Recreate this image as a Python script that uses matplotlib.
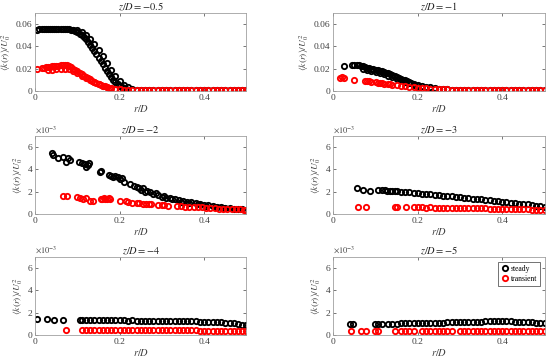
import matplotlib
matplotlib.use("Agg")
import matplotlib.pyplot as plt
from matplotlib.ticker import FuncFormatter

plt.rcParams['font.family'] = ['Liberation Serif', 'DejaVu Serif']
plt.rcParams['mathtext.fontset'] = 'stix'

titles = ['$z/D = -0.5$', '$z/D = -1$', '$z/D = -2$', '$z/D = -3$', '$z/D = -4$', '$z/D = -5$']

# ---- z/D = -0.5 (absolute values) ----
r_s1 = [0.005, 0.01, 0.015, 0.02, 0.025, 0.03, 0.035, 0.04, 0.045, 0.05, 0.055, 0.06, 0.065, 0.07,
        0.075, 0.08, 0.085, 0.09, 0.095, 0.10, 0.105, 0.11, 0.115, 0.12, 0.125, 0.13, 0.135, 0.14,
        0.145, 0.15, 0.155, 0.16, 0.165, 0.17, 0.175, 0.18, 0.185, 0.19, 0.195, 0.20, 0.205, 0.21,
        0.215, 0.22,
        0.09, 0.10, 0.11, 0.12, 0.13, 0.14, 0.15, 0.16, 0.17, 0.18, 0.19, 0.20, 0.21, 0.22, 0.23,
        0.24, 0.25, 0.26, 0.27, 0.28, 0.29, 0.30, 0.31, 0.32, 0.33, 0.34, 0.35, 0.36, 0.37, 0.38,
        0.39, 0.40, 0.41, 0.42, 0.43, 0.44, 0.45, 0.46, 0.47, 0.48, 0.49, 0.50]
k_s1 = [0.0550, 0.0552, 0.0553, 0.0554, 0.0555, 0.0555, 0.0556, 0.0556, 0.0556, 0.0556, 0.0556,
        0.0556, 0.0555, 0.0555, 0.0553, 0.0552, 0.0550, 0.0545, 0.0538, 0.0528, 0.0515, 0.0500,
        0.0482, 0.0462, 0.0440, 0.0415, 0.0388, 0.0360, 0.0330, 0.0300, 0.0270, 0.0240, 0.0210,
        0.0180, 0.0152, 0.0125, 0.0100, 0.0078, 0.0060, 0.0045, 0.0033, 0.0024, 0.0017, 0.0012,
        0.0550, 0.0547, 0.0532, 0.0506, 0.0470, 0.0425, 0.0372, 0.0312, 0.0250, 0.0186, 0.0130,
        0.0086, 0.0055, 0.0033, 0.0020,
        0.0010, 0.0009, 0.0008, 0.0008, 0.0007, 0.0007, 0.0007, 0.0006, 0.0006, 0.0006,
        0.0006, 0.0006, 0.0005, 0.0005, 0.0005, 0.0005, 0.0005, 0.0005, 0.0005, 0.0005, 0.0005,
        0.0005, 0.0005, 0.0005, 0.0005, 0.0005, 0.0005]
r_t1 = [0.005, 0.015, 0.02, 0.025, 0.03, 0.035, 0.04, 0.045, 0.05, 0.055, 0.06, 0.065, 0.07, 0.075,
        0.08, 0.085, 0.09, 0.095, 0.10, 0.105, 0.11, 0.115, 0.12, 0.125, 0.13, 0.135, 0.14, 0.145,
        0.15, 0.155, 0.16, 0.165, 0.17, 0.175, 0.18, 0.19, 0.20, 0.21, 0.22,
        0.03, 0.04, 0.05, 0.06, 0.07, 0.08, 0.09, 0.10, 0.11, 0.12, 0.13, 0.14, 0.15, 0.16, 0.17,
        0.18, 0.19, 0.20,
        0.23, 0.24, 0.25, 0.26, 0.27, 0.28, 0.29, 0.30, 0.31, 0.32, 0.33, 0.34, 0.35, 0.36, 0.37,
        0.38, 0.39, 0.40, 0.41, 0.42, 0.43, 0.44, 0.45, 0.46, 0.47, 0.48, 0.49, 0.50]
k_t1 = [0.0200, 0.0205, 0.0210, 0.0212, 0.0215, 0.0218, 0.0220, 0.0222, 0.0225, 0.0228, 0.0232,
        0.0235, 0.0235, 0.0230, 0.0222, 0.0212, 0.0200, 0.0188, 0.0175, 0.0162, 0.0150, 0.0138,
        0.0126, 0.0114, 0.0103, 0.0092, 0.0082, 0.0072, 0.0063, 0.0055, 0.0047, 0.0040, 0.0034,
        0.0029, 0.0024, 0.0018, 0.0013, 0.0010, 0.0008,
        0.0185, 0.0190, 0.0195, 0.0198, 0.0200, 0.0195, 0.0180, 0.0160, 0.0138, 0.0115, 0.0095,
        0.0077, 0.0060, 0.0045, 0.0034, 0.0025, 0.0018, 0.0013,
        0.0008, 0.0007, 0.0007, 0.0007, 0.0007, 0.0007, 0.0007, 0.0006, 0.0006, 0.0006, 0.0006,
        0.0006, 0.0006, 0.0006, 0.0006, 0.0006, 0.0006, 0.0006, 0.0006, 0.0006, 0.0006, 0.0006,
        0.0006, 0.0006, 0.0006, 0.0006, 0.0006, 0.0006]

# ---- z/D = -1 (absolute values) ----
r_s2 = [0.025, 0.045, 0.05, 0.055, 0.06, 0.065, 0.07, 0.075, 0.08, 0.085, 0.09, 0.095, 0.10, 0.105,
        0.11, 0.115, 0.12, 0.125, 0.13, 0.135, 0.14, 0.145, 0.15, 0.155, 0.16, 0.165, 0.17, 0.175,
        0.18, 0.185, 0.19, 0.20, 0.21, 0.22, 0.23, 0.24, 0.25, 0.26, 0.27, 0.28, 0.29, 0.30,
        0.07, 0.08, 0.09, 0.10, 0.11, 0.12, 0.13, 0.14, 0.15, 0.16, 0.17, 0.18, 0.19, 0.20,
        0.31, 0.32, 0.33, 0.34, 0.35, 0.36, 0.37, 0.38, 0.39, 0.40, 0.41, 0.42, 0.43, 0.44, 0.45,
        0.46, 0.47, 0.48, 0.49, 0.50]
k_s2 = [0.0225, 0.0230, 0.0232, 0.0233, 0.0230, 0.0225, 0.0222, 0.0215, 0.0210, 0.0205, 0.0200,
        0.0195, 0.0190, 0.0185, 0.0180, 0.0175, 0.0170, 0.0165, 0.0160, 0.0150, 0.0142, 0.0135,
        0.0127, 0.0118, 0.0110, 0.0102, 0.0095, 0.0088, 0.0080, 0.0073, 0.0066, 0.0055, 0.0046,
        0.0038, 0.0031, 0.0025, 0.0020, 0.0016, 0.0013, 0.0011, 0.0009, 0.0008,
        0.0200, 0.0190, 0.0180, 0.0170, 0.0160, 0.0150, 0.0138, 0.0125, 0.0110, 0.0095, 0.0082,
        0.0068, 0.0056, 0.0046,
        0.0007, 0.0007, 0.0006, 0.0006, 0.0006, 0.0006, 0.0005, 0.0005, 0.0005, 0.0005, 0.0005,
        0.0005, 0.0004, 0.0004, 0.0004, 0.0004, 0.0004, 0.0004, 0.0004, 0.0004]
r_t2 = [0.015, 0.02, 0.025, 0.05, 0.075, 0.08, 0.085, 0.09, 0.10, 0.105, 0.11, 0.115, 0.12, 0.13,
        0.135, 0.14, 0.15, 0.16, 0.17, 0.18, 0.19, 0.20, 0.21, 0.22, 0.23, 0.24, 0.25, 0.26, 0.27,
        0.28, 0.29, 0.30, 0.31, 0.32, 0.33, 0.34, 0.35, 0.36, 0.37, 0.38, 0.39, 0.40, 0.41, 0.42,
        0.43, 0.44, 0.45, 0.46, 0.47, 0.48, 0.49, 0.50]
k_t2 = [0.0120, 0.0122, 0.0120, 0.0095, 0.0088, 0.0087, 0.0085, 0.0083, 0.0080, 0.0075, 0.0072,
        0.0070, 0.0066, 0.0062, 0.0060, 0.0057, 0.0052, 0.0047, 0.0043, 0.0038, 0.0034, 0.0030,
        0.0027, 0.0024, 0.0021, 0.0018, 0.0016, 0.0014, 0.0013, 0.0011, 0.0010, 0.0009, 0.0008,
        0.0008, 0.0007, 0.0007, 0.0007, 0.0006, 0.0006, 0.0006, 0.0006, 0.0006, 0.0006, 0.0005,
        0.0005, 0.0005, 0.0005, 0.0005, 0.0005, 0.0005, 0.0005, 0.0005]

# ---- z/D = -2 (values in units of 1e-3) ----
r_s3 = [0.040, 0.043, 0.055, 0.065, 0.074, 0.078, 0.082, 0.103, 0.110, 0.118, 0.121, 0.125, 0.128,
        0.153, 0.156, 0.175, 0.180, 0.185, 0.190, 0.195, 0.200, 0.205, 0.210, 0.225, 0.235, 0.240,
        0.245, 0.250, 0.255, 0.260, 0.265, 0.272, 0.280, 0.285, 0.290, 0.300, 0.305, 0.310, 0.320,
        0.325, 0.330, 0.340, 0.350, 0.360, 0.370, 0.380, 0.390, 0.400, 0.410, 0.420, 0.430, 0.440,
        0.450, 0.460, 0.470, 0.480, 0.490, 0.500, 0.345, 0.365, 0.385, 0.405, 0.425, 0.445]
k_s3 = [5.45, 5.30, 5.00, 5.15, 4.70, 5.00, 4.85, 4.65, 4.60, 4.50, 4.20, 4.40, 4.55,
        3.75, 3.90, 3.50, 3.40, 3.30, 3.45, 3.30, 3.10, 3.25, 2.90, 2.70, 2.55, 2.40,
        2.30, 2.15, 2.35, 2.00, 2.10, 1.95, 1.75, 1.85, 1.70, 1.55, 1.65, 1.45, 1.40,
        1.30, 1.35, 1.25, 1.20, 1.10, 1.05, 0.95, 0.90, 0.82, 0.78, 0.72, 0.65, 0.58,
        0.55, 0.50, 0.48, 0.42, 0.40, 0.35, 1.10, 1.00, 0.85, 0.70, 0.62, 0.55]
r_t3 = [0.065, 0.075, 0.100, 0.105, 0.113, 0.120, 0.130, 0.138, 0.155, 0.158, 0.162, 0.166, 0.170,
        0.174, 0.178, 0.200, 0.215, 0.220, 0.230, 0.240, 0.245, 0.255, 0.262, 0.270, 0.275, 0.290,
        0.300, 0.305, 0.315, 0.335, 0.345, 0.355, 0.365, 0.375, 0.385, 0.395, 0.405, 0.415, 0.425,
        0.435, 0.445, 0.455, 0.465, 0.475, 0.485, 0.495, 0.500]
k_t3 = [1.65, 1.60, 1.50, 1.45, 1.35, 1.40, 1.20, 1.15, 1.30, 1.35, 1.40, 1.35, 1.35,
        1.40, 1.30, 1.20, 1.15, 1.05, 1.00, 0.95, 1.00, 0.90, 0.90, 0.85, 0.90, 0.80,
        0.78, 0.80, 0.75, 0.70, 0.68, 0.65, 0.62, 0.60, 0.60, 0.58, 0.55, 0.52, 0.50,
        0.48, 0.46, 0.45, 0.43, 0.42, 0.40, 0.38, 0.35]

# ---- z/D = -3 (1e-3) ----
r_s4 = [0.055, 0.071, 0.087, 0.105, 0.115, 0.122, 0.128, 0.135, 0.14, 0.145, 0.15, 0.16, 0.17, 0.18,
        0.19, 0.20, 0.21, 0.22, 0.23, 0.24, 0.25, 0.26, 0.27, 0.28, 0.29, 0.30, 0.31, 0.32, 0.33,
        0.34, 0.35, 0.36, 0.37, 0.38, 0.39, 0.40, 0.41, 0.42, 0.43, 0.44, 0.45, 0.46, 0.47, 0.48,
        0.49, 0.50]
k_s4 = [2.35, 2.15, 2.05, 2.15, 2.15, 2.15, 2.10, 2.10, 2.05, 2.05, 2.05, 2.00, 1.97, 1.95,
        1.90, 1.87, 1.83, 1.80, 1.78, 1.72, 1.70, 1.65, 1.60, 1.57, 1.53, 1.50, 1.45, 1.42, 1.38,
        1.33, 1.30, 1.25, 1.22, 1.17, 1.13, 1.10, 1.05, 1.02, 0.97, 0.93, 0.90, 0.85, 0.80, 0.75,
        0.70, 0.65]
r_t4 = [0.058, 0.077, 0.145, 0.150, 0.172, 0.19, 0.20, 0.21, 0.22, 0.23, 0.24, 0.25, 0.26, 0.27,
        0.28, 0.29, 0.30, 0.31, 0.32, 0.33, 0.34, 0.35, 0.36, 0.37, 0.38, 0.39, 0.40, 0.41, 0.42,
        0.43, 0.44, 0.45, 0.46, 0.47, 0.48, 0.49, 0.50]
k_t4 = [0.65, 0.65, 0.62, 0.62, 0.60, 0.58, 0.60, 0.58, 0.57, 0.58, 0.56, 0.57, 0.55, 0.56,
        0.54, 0.55, 0.53, 0.54, 0.52, 0.52, 0.50, 0.51, 0.49, 0.48, 0.48, 0.46, 0.46, 0.45, 0.44,
        0.43, 0.42, 0.41, 0.40, 0.38, 0.37, 0.36, 0.35]

# ---- z/D = -4 (1e-3) ----
r_s5 = [0.005, 0.028, 0.045, 0.065, 0.105, 0.11, 0.12, 0.13, 0.14, 0.15, 0.16, 0.17, 0.18, 0.19,
        0.20, 0.21, 0.22, 0.23, 0.24, 0.25, 0.26, 0.27, 0.28, 0.29, 0.30, 0.31, 0.32, 0.33, 0.34,
        0.35, 0.36, 0.37, 0.38, 0.39, 0.40, 0.41, 0.42, 0.43, 0.44, 0.45, 0.46, 0.47, 0.48, 0.49,
        0.50]
k_s5 = [1.40, 1.40, 1.38, 1.35, 1.32, 1.33, 1.33, 1.32, 1.32, 1.33, 1.32, 1.31, 1.32, 1.31,
        1.30, 1.30, 1.29, 1.30, 1.29, 1.28, 1.29, 1.28, 1.28, 1.27, 1.27, 1.26, 1.25, 1.25, 1.24,
        1.23, 1.22, 1.22, 1.21, 1.20, 1.19, 1.17, 1.16, 1.14, 1.12, 1.10, 1.07, 1.03, 0.98, 0.93,
        0.85]
r_t5 = [0.073, 0.11, 0.12, 0.13, 0.14, 0.15, 0.16, 0.17, 0.18, 0.19, 0.20, 0.21, 0.22, 0.23, 0.24,
        0.25, 0.26, 0.27, 0.28, 0.29, 0.30, 0.31, 0.32, 0.33, 0.34, 0.35, 0.36, 0.37, 0.38, 0.39,
        0.40, 0.41, 0.42, 0.43, 0.44, 0.45, 0.46, 0.47, 0.48, 0.49, 0.50]
k_t5 = [0.45, 0.45, 0.45, 0.45, 0.45, 0.45, 0.45, 0.45, 0.45, 0.44, 0.44, 0.44, 0.44, 0.44, 0.43,
        0.43, 0.43, 0.43, 0.42, 0.42, 0.42, 0.42, 0.41, 0.41, 0.41, 0.40, 0.40, 0.40, 0.40, 0.39,
        0.39, 0.39, 0.39, 0.38, 0.38, 0.38, 0.38, 0.38, 0.37, 0.37, 0.37]

# ---- z/D = -5 (1e-3) ----
r_s6 = [0.040, 0.047, 0.099, 0.107, 0.115, 0.13, 0.14, 0.15, 0.16, 0.17, 0.18, 0.19, 0.20, 0.21,
        0.22, 0.23, 0.24, 0.25, 0.26, 0.27, 0.28, 0.29, 0.30, 0.31, 0.32, 0.33, 0.34, 0.35, 0.36,
        0.37, 0.38, 0.39, 0.40, 0.41, 0.42, 0.43, 0.44, 0.45, 0.46, 0.47, 0.48, 0.49, 0.50]
k_s6 = [1.00, 1.00, 1.00, 1.00, 1.00, 1.00, 1.02, 1.02, 1.03, 1.03, 1.04, 1.05, 1.05, 1.06,
        1.07, 1.08, 1.09, 1.10, 1.11, 1.12, 1.13, 1.14, 1.15, 1.16, 1.17, 1.18, 1.19, 1.20, 1.21,
        1.22, 1.23, 1.24, 1.23, 1.22, 1.21, 1.20, 1.18, 1.16, 1.14, 1.12, 1.10, 1.08, 1.05]
r_t6 = [0.043, 0.066, 0.077, 0.099, 0.107, 0.146, 0.16, 0.17, 0.18, 0.19, 0.21, 0.22, 0.23, 0.24,
        0.25, 0.26, 0.27, 0.28, 0.30, 0.31, 0.32, 0.33, 0.34, 0.35, 0.36, 0.37, 0.38, 0.39, 0.40,
        0.41, 0.42, 0.43, 0.44, 0.45, 0.46, 0.47, 0.48, 0.49, 0.50]
k_t6 = [0.35, 0.35, 0.35, 0.35, 0.35, 0.36, 0.36, 0.36, 0.37, 0.37, 0.37, 0.37, 0.37, 0.38,
        0.38, 0.38, 0.38, 0.38, 0.38, 0.38, 0.38, 0.38, 0.38, 0.38, 0.38, 0.38, 0.38, 0.38, 0.38,
        0.38, 0.38, 0.38, 0.38, 0.38, 0.37, 0.37, 0.37, 0.37, 0.37]

steady = [(r_s1, k_s1), (r_s2, k_s2), (r_s3, k_s3), (r_s4, k_s4), (r_s5, k_s5), (r_s6, k_s6)]
transient = [(r_t1, k_t1), (r_t2, k_t2), (r_t3, k_t3), (r_t4, k_t4), (r_t5, k_t5), (r_t6, k_t6)]

fig = plt.figure(figsize=(5.5, 3.62), dpi=100)

lefts = [0.064, 0.606]
bottoms = [0.749, 0.409, 0.075]
w, h = 0.384, 0.215

fmt = FuncFormatter(lambda v, p: '%g' % v)
spine_c = '#a0a0a0'
text_c = '#404040'
ms, mew = 3.8, 1.35

for i in range(6):
    row, col = divmod(i, 2)
    ax = fig.add_axes([lefts[col], bottoms[row], w, h])
    rs, ks = steady[i]
    rt, kt = transient[i]
    ax.plot(rs, ks, 'o', mfc='none', mec='k', ms=ms, mew=mew, label='steady')
    ax.plot(rt, kt, 'o', mfc='none', mec='r', ms=ms, mew=mew, label='transient')
    ax.set_xlim(0, 0.5)
    ax.set_xticks([0, 0.2, 0.4])
    if i < 2:
        ax.set_ylim(0, 0.07)
        ax.set_yticks([0, 0.02, 0.04, 0.06])
    else:
        ax.set_ylim(0, 7)
        ax.set_yticks([0, 2, 4, 6])
        ax.text(0, 1.02, r'$\times10^{-3}$', transform=ax.transAxes, fontsize=6,
                color=text_c, ha='left', va='bottom')
    ax.xaxis.set_major_formatter(fmt)
    ax.yaxis.set_major_formatter(fmt)
    ax.tick_params(direction='in', length=2.5, width=0.5, labelsize=6.8,
                   colors=text_c, top=True, right=True, pad=2)
    for s in ax.spines.values():
        s.set_color(spine_c)
        s.set_linewidth(0.6)
    ax.set_title(titles[i], fontsize=7.5, color='#222222', pad=2)
    ax.set_xlabel('$r/D$', fontsize=7.5, color=text_c, labelpad=1)
    ax.set_ylabel(r'$\langle k(r)\rangle/U_0^2$', fontsize=6.8, color=text_c, labelpad=2)
    if i == 5:
        leg = ax.legend(loc='upper right', fontsize=5.5, frameon=True, fancybox=False,
                        handletextpad=0.2, borderpad=0.4, handlelength=1.0,
                        labelspacing=0.3, borderaxespad=0.6)
        leg.get_frame().set_edgecolor('#333333')
        leg.get_frame().set_linewidth(0.6)

fig.savefig('out.png', dpi=100)
